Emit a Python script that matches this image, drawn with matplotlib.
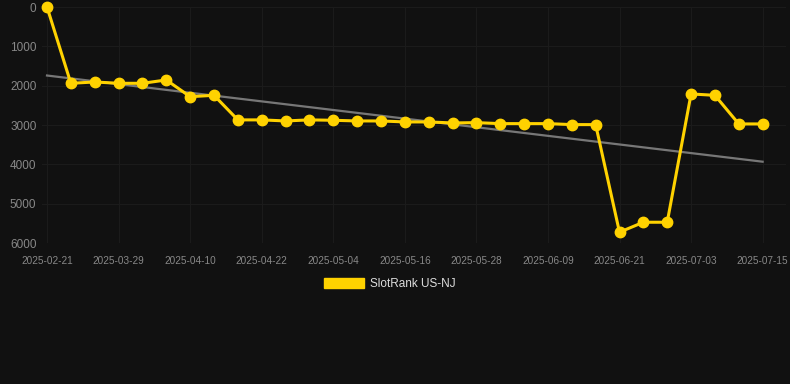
import numpy as np
import matplotlib
matplotlib.use("Agg")
import matplotlib.pyplot as plt
from matplotlib.patches import Patch

plt.rcParams['font.family'] = ['Liberation Sans', 'DejaVu Sans']

# dates (categorical, evenly spaced on the chart)
dates = [
    "2025-02-21", "2025-03-21", "2025-03-25", "2025-03-29", "2025-04-02",
    "2025-04-06", "2025-04-10", "2025-04-14", "2025-04-18", "2025-04-22",
    "2025-04-26", "2025-04-30", "2025-05-04", "2025-05-08", "2025-05-12",
    "2025-05-16", "2025-05-20", "2025-05-24", "2025-05-28", "2025-06-01",
    "2025-06-05", "2025-06-09", "2025-06-13", "2025-06-17", "2025-06-21",
    "2025-06-25", "2025-06-29", "2025-07-03", "2025-07-07", "2025-07-11",
    "2025-07-15",
]
rank = [
    0, 1940, 1906, 1940, 1940, 1855, 2280, 2245, 2870, 2870,
    2897, 2870, 2880, 2897, 2897, 2922, 2922, 2948, 2940, 2965,
    2965, 2965, 2990, 2990, 5726, 5472, 5472, 2211, 2245, 2973,
    2973,
]
series_name = "SlotRank US-NJ"

bg = "#111111"
yellow = "#FFD200"

x = np.arange(len(dates))
y = np.array(rank, dtype=float)

# linear trend
coef = np.polyfit(x, y, 1)
trend = np.polyval(coef, x)

fig = plt.figure(figsize=(7.9, 3.84), dpi=100, facecolor=bg)
ax = fig.add_axes([42 / 790, (384 - 243) / 384, (786 - 42) / 790, (243 - 7) / 384])
ax.set_facecolor(bg)

ax.plot(x, trend, color="#777777", linewidth=1.6, zorder=2)
ax.plot(x, y, color=yellow, linewidth=2.2, marker="o", markersize=7.5,
        zorder=3, clip_on=False)

ax.set_ylim(6000, 0)
ax.set_yticks([0, 1000, 2000, 3000, 4000, 5000, 6000])
ax.set_xlim(-0.21, 30.98)
ticks = list(range(0, len(dates), 3))
ax.set_xticks(ticks)
ax.set_xticklabels([dates[i] for i in ticks])

ax.grid(True, color="#1b1b1b", linewidth=0.8)
ax.set_axisbelow(True)
for s in ax.spines.values():
    s.set_visible(False)
ax.tick_params(axis="y", colors="#888888", labelsize=8.5, length=0, pad=4)
ax.tick_params(axis="x", colors="#888888", labelsize=7.2, length=0, pad=9)

handle = Patch(facecolor=yellow, edgecolor=yellow)
fig.legend([handle], [series_name], loc="center", bbox_to_anchor=(390 / 790, 1 - 284 / 384),
           frameon=False, fontsize=8.5, labelcolor="#dddddd",
           handlelength=3.4, handleheight=1.0, handletextpad=0.5)

fig.savefig("out.png", dpi=100, facecolor=bg)
